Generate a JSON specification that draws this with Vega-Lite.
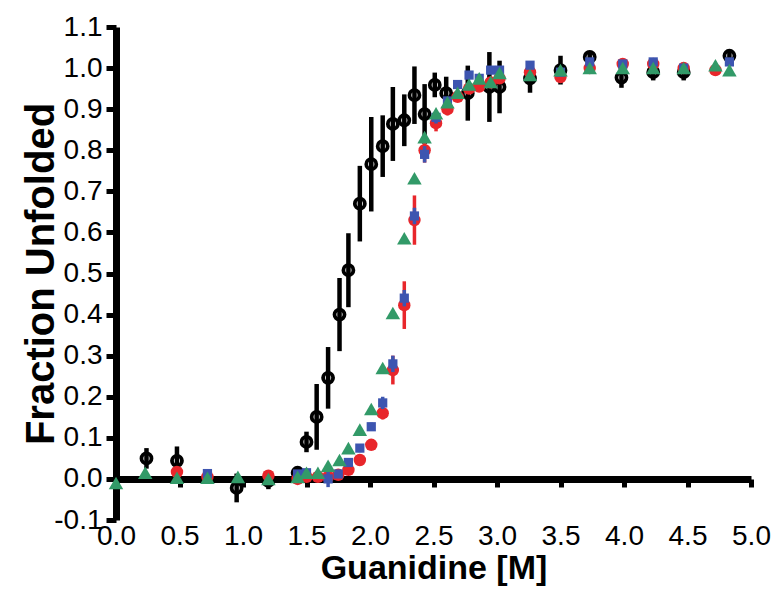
{
  "$schema": "https://vega.github.io/schema/vega-lite/v6.json",
  "width": 635,
  "height": 493,
  "autosize": "none",
  "padding": {"left": 116, "top": 27, "right": 33, "bottom": 70},
  "background": "white",
  "config": {"view": {"stroke": null}, "font": "Liberation Sans"},
  "datasets": {
    "black": [
      {"x": 0.24, "y": 0.05, "e": 0.025},
      {"x": 0.48, "y": 0.044, "e": 0.035},
      {"x": 0.95, "y": -0.022, "e": 0.035},
      {"x": 1.2, "y": -0.005, "e": 0.02},
      {"x": 1.43, "y": 0.015, "e": 0.012},
      {"x": 1.5, "y": 0.09, "e": 0.025},
      {"x": 1.58, "y": 0.151, "e": 0.08},
      {"x": 1.67, "y": 0.246, "e": 0.075},
      {"x": 1.76, "y": 0.4, "e": 0.089},
      {"x": 1.83, "y": 0.508, "e": 0.09},
      {"x": 1.92, "y": 0.67, "e": 0.092},
      {"x": 2.01, "y": 0.766, "e": 0.115},
      {"x": 2.1, "y": 0.81, "e": 0.075},
      {"x": 2.18, "y": 0.864, "e": 0.09},
      {"x": 2.27, "y": 0.873, "e": 0.063},
      {"x": 2.35, "y": 0.934, "e": 0.07},
      {"x": 2.43, "y": 0.888, "e": 0.073},
      {"x": 2.51, "y": 0.959, "e": 0.03},
      {"x": 2.6, "y": 0.939, "e": 0.04},
      {"x": 2.77, "y": 0.939, "e": 0.067},
      {"x": 2.94, "y": 0.954, "e": 0.085},
      {"x": 3.02, "y": 0.954, "e": 0.064},
      {"x": 3.26, "y": 0.975, "e": 0.035},
      {"x": 3.5, "y": 0.995, "e": 0.035},
      {"x": 3.73, "y": 1.027, "e": 0.015},
      {"x": 3.98, "y": 0.977, "e": 0.025},
      {"x": 4.23, "y": 0.99, "e": 0.02},
      {"x": 4.47, "y": 0.99, "e": 0.02},
      {"x": 4.83, "y": 1.03, "e": 0.01}
    ],
    "red": [
      {"x": 0.48, "y": 0.017, "e": 0.0},
      {"x": 0.72, "y": 0.005, "e": 0.0},
      {"x": 1.2, "y": 0.008, "e": 0.0},
      {"x": 1.43, "y": 0.0, "e": 0.008},
      {"x": 1.5, "y": 0.005, "e": 0.0},
      {"x": 1.59, "y": 0.005, "e": 0.0},
      {"x": 1.67, "y": 0.005, "e": 0.0},
      {"x": 1.75, "y": 0.01, "e": 0.0},
      {"x": 1.83, "y": 0.022, "e": 0.0},
      {"x": 1.92, "y": 0.046, "e": 0.008},
      {"x": 2.01, "y": 0.083, "e": 0.008},
      {"x": 2.1, "y": 0.16, "e": 0.015},
      {"x": 2.18, "y": 0.265, "e": 0.035},
      {"x": 2.27, "y": 0.423, "e": 0.058},
      {"x": 2.35, "y": 0.63, "e": 0.06},
      {"x": 2.43, "y": 0.8, "e": 0.03},
      {"x": 2.52, "y": 0.866, "e": 0.02},
      {"x": 2.61, "y": 0.9, "e": 0.015},
      {"x": 2.69, "y": 0.93, "e": 0.01},
      {"x": 2.78, "y": 0.95, "e": 0.01},
      {"x": 2.86, "y": 0.955, "e": 0.01},
      {"x": 2.95, "y": 0.965, "e": 0.01},
      {"x": 3.02, "y": 0.975, "e": 0.01},
      {"x": 3.26, "y": 0.99, "e": 0.0},
      {"x": 3.5, "y": 0.978, "e": 0.0},
      {"x": 3.73, "y": 1.0, "e": 0.0},
      {"x": 3.99, "y": 1.01, "e": 0.0},
      {"x": 4.23, "y": 1.01, "e": 0.0},
      {"x": 4.47, "y": 1.0, "e": 0.0},
      {"x": 4.72, "y": 0.995, "e": 0.0}
    ],
    "blue": [
      {"x": 0.72, "y": 0.013, "e": 0.0},
      {"x": 1.43, "y": 0.012, "e": 0.0},
      {"x": 1.5, "y": 0.015, "e": 0.0},
      {"x": 1.67, "y": 0.0, "e": 0.02},
      {"x": 1.75, "y": 0.012, "e": 0.0},
      {"x": 1.83, "y": 0.04, "e": 0.008},
      {"x": 1.92, "y": 0.075, "e": 0.01},
      {"x": 2.01, "y": 0.127, "e": 0.01},
      {"x": 2.1, "y": 0.185, "e": 0.015},
      {"x": 2.18, "y": 0.28, "e": 0.02},
      {"x": 2.27, "y": 0.44, "e": 0.02},
      {"x": 2.35, "y": 0.64, "e": 0.02},
      {"x": 2.43, "y": 0.79, "e": 0.02},
      {"x": 2.52, "y": 0.88, "e": 0.015},
      {"x": 2.61, "y": 0.92, "e": 0.01},
      {"x": 2.69, "y": 0.96, "e": 0.01},
      {"x": 2.78, "y": 0.983, "e": 0.01},
      {"x": 2.86, "y": 0.975, "e": 0.0},
      {"x": 2.95, "y": 0.995, "e": 0.0},
      {"x": 3.02, "y": 0.995, "e": 0.0},
      {"x": 3.26, "y": 1.007, "e": 0.0},
      {"x": 3.5, "y": 0.99, "e": 0.0},
      {"x": 3.73, "y": 1.015, "e": 0.0},
      {"x": 3.99, "y": 1.01, "e": 0.0},
      {"x": 4.23, "y": 1.015, "e": 0.0},
      {"x": 4.47, "y": 1.0, "e": 0.0},
      {"x": 4.83, "y": 1.015, "e": 0.0}
    ],
    "green": [
      {"x": 0.0, "y": -0.01},
      {"x": 0.23, "y": 0.015},
      {"x": 0.48, "y": 0.003},
      {"x": 0.72, "y": 0.003},
      {"x": 0.96, "y": 0.005},
      {"x": 1.2, "y": 0.0},
      {"x": 1.43, "y": 0.005},
      {"x": 1.5, "y": 0.015},
      {"x": 1.59, "y": 0.015},
      {"x": 1.67, "y": 0.032},
      {"x": 1.76, "y": 0.046},
      {"x": 1.83, "y": 0.075},
      {"x": 1.92, "y": 0.12},
      {"x": 2.01, "y": 0.17},
      {"x": 2.1, "y": 0.27},
      {"x": 2.18, "y": 0.404},
      {"x": 2.27, "y": 0.586},
      {"x": 2.35, "y": 0.732},
      {"x": 2.43, "y": 0.832},
      {"x": 2.52, "y": 0.89},
      {"x": 2.61, "y": 0.917},
      {"x": 2.69, "y": 0.94},
      {"x": 2.78, "y": 0.96},
      {"x": 2.86, "y": 0.975},
      {"x": 2.95, "y": 0.966},
      {"x": 3.02, "y": 0.988},
      {"x": 3.26, "y": 0.983},
      {"x": 3.5, "y": 0.995},
      {"x": 3.73, "y": 1.0},
      {"x": 3.99, "y": 1.0},
      {"x": 4.23, "y": 1.0},
      {"x": 4.47, "y": 1.0},
      {"x": 4.72, "y": 1.007},
      {"x": 4.83, "y": 0.995}
    ]
  },
  "encoding": {
    "x": {
      "field": "x",
      "type": "quantitative",
      "title": "Guanidine [M]",
      "scale": {"domain": [0, 5], "nice": false, "zero": false},
      "axis": {
        "values": [0, 0.5, 1, 1.5, 2, 2.5, 3, 3.5, 4, 4.5, 5],
        "format": ".1f",
        "offset": -41,
        "grid": false,
        "domainColor": "black",
        "domainWidth": 7,
        "tickColor": "black",
        "tickWidth": 5,
        "tickSize": 8,
        "labelFont": "Liberation Sans",
        "labelFontSize": 28,
        "labelColor": "black",
        "labelPadding": 35,
        "labelFlush": false,
        "labelOverlap": false,
        "titleFont": "Liberation Sans",
        "titleFontSize": 34,
        "titleFontWeight": "bold",
        "titleColor": "black",
        "titlePadding": 1
      }
    },
    "y": {
      "field": "y",
      "type": "quantitative",
      "title": "Fraction Unfolded",
      "scale": {"domain": [-0.1, 1.1], "nice": false, "zero": false},
      "axis": {
        "values": [-0.1, 0, 0.1, 0.2, 0.3, 0.4, 0.5, 0.6, 0.7, 0.8, 0.9, 1.0, 1.1],
        "labelExpr": "datum.value < 0 ? '-' + format(-datum.value, '.1f') : format(datum.value, '.1f')",
        "grid": false,
        "domainColor": "black",
        "domainWidth": 7,
        "tickColor": "black",
        "tickWidth": 5,
        "tickSize": 10,
        "labelFont": "Liberation Sans",
        "labelFontSize": 28,
        "labelColor": "black",
        "labelPadding": 4,
        "labelFlush": false,
        "labelOverlap": false,
        "titleFont": "Liberation Sans",
        "titleFontSize": 40,
        "titleFontWeight": "bold",
        "titleColor": "black",
        "titleBaseline": "alphabetic",
        "titlePadding": 0
      }
    }
  },
  "layer": [
    {
      "data": {"name": "black"},
      "mark": {"type": "errorbar", "color": "black", "thickness": 4.5},
      "encoding": {"yError": {"field": "e"}}
    },
    {
      "data": {"name": "black"},
      "mark": {"type": "point", "shape": "circle", "filled": false, "color": "black", "strokeWidth": 3.8, "size": 100, "opacity": 1}
    },
    {
      "data": {"name": "red"},
      "mark": {"type": "errorbar", "color": "#e8262b", "thickness": 3.5},
      "encoding": {"yError": {"field": "e"}}
    },
    {
      "data": {"name": "red"},
      "mark": {"type": "point", "shape": "circle", "filled": true, "color": "#e8262b", "size": 155, "opacity": 1}
    },
    {
      "data": {"name": "blue"},
      "mark": {"type": "errorbar", "color": "#3d55b0", "thickness": 3.5},
      "encoding": {"yError": {"field": "e"}}
    },
    {
      "data": {"name": "blue"},
      "mark": {"type": "point", "shape": "square", "filled": true, "color": "#3d55b0", "size": 85, "opacity": 1}
    },
    {
      "data": {"name": "green"},
      "mark": {"type": "point", "shape": "triangle-up", "filled": true, "color": "#329a68", "size": 210, "opacity": 1}
    }
  ]
}
